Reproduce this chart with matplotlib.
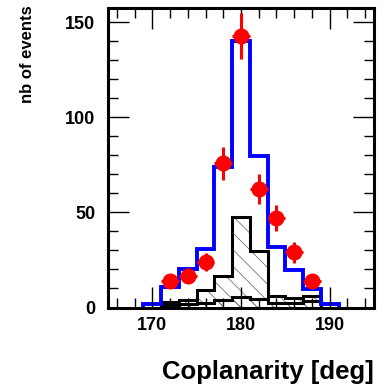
import matplotlib
matplotlib.use("Agg")
import matplotlib.pyplot as plt
import numpy as np

plt.rcParams['font.family'] = ['Liberation Sans', 'DejaVu Sans']
plt.rcParams['font.weight'] = 'bold'
plt.rcParams['hatch.linewidth'] = 0.6

# Binning (deg)
edges_mc = [169, 171, 173, 175, 177, 179, 181, 183, 185, 187, 189, 191]
mc_total = [2, 11, 20, 31, 74, 140, 79.5, 32, 19.5, 9.5, 2]

edges_bkg = [171, 173, 175, 177, 179, 181, 183, 185, 187, 189]
bkg1 = [3, 4, 9.3, 16.7, 47.5, 29.5, 6.3, 4.9, 5.8]
bkg2 = [1.5, 2, 2.2, 3.9, 5.3, 4.3, 2.5, 2.2, 3.4]

data_x = [172, 174, 176, 178, 180, 182, 184, 186, 188]
data_y = [14, 16.8, 24, 76, 143, 62.5, 47, 29, 14]
data_err = [3.7, 4.1, 4.9, 8.7, 12, 7.9, 6.9, 5.4, 3.7]
bin_half = [1] * len(data_x)

fig = plt.figure(figsize=(3.87, 3.89), dpi=100)
ax = fig.add_axes([108/387, 1 - 307.5/389, (374-108)/387, (307.5-8)/389])

# hatched background 1
ax.stairs(bkg1, edges_bkg, fill=True, facecolor='none', edgecolor='#777777',
          hatch='\\\\', linewidth=0)
ax.stairs(bkg1, edges_bkg, color='black', linewidth=2.2)
# background 2
ax.stairs(bkg2, edges_bkg, fill=True, facecolor='none', edgecolor='#777777',
          hatch='\\\\', linewidth=0)
ax.stairs(bkg2, edges_bkg, color='black', linewidth=2.2)
# total MC
ax.stairs(mc_total, edges_mc, color='#0000ff', linewidth=2.8)

# data
ax.errorbar(data_x, data_y, yerr=data_err, xerr=bin_half, fmt='o', color='red',
            markersize=10.5, elinewidth=2.2, capsize=0, zorder=5)

ax.set_xlim(165, 195)
ax.set_ylim(0, 157.6)
ax.set_xticks([170, 180, 190])
ax.set_xticks(np.arange(166, 196, 2), minor=True)
ax.set_yticks([0, 50, 100, 150])
ax.set_yticks(np.arange(0, 160, 10), minor=True)
ax.tick_params(which='both', direction='in', top=True, right=True, width=1.0,
               labelsize=13)
ax.tick_params(which='major', length=15)
ax.tick_params(which='minor', length=7)
ax.tick_params(axis='y', pad=9)
ax.tick_params(axis='x', pad=7)
for lab in ax.get_xticklabels() + ax.get_yticklabels():
    lab.set_fontweight('bold')
for s in ax.spines.values():
    s.set_linewidth(2.2)

fig.text(374/387, 1 - 372/389, 'Coplanarity [deg]', ha='right', va='center',
         fontsize=18.5, fontweight='bold')
fig.text(28/387, 1 - 5/389, 'nb of events', ha='center', va='top', rotation=90,
         fontsize=12, fontweight='bold')

fig.savefig('out.png', dpi=100)
